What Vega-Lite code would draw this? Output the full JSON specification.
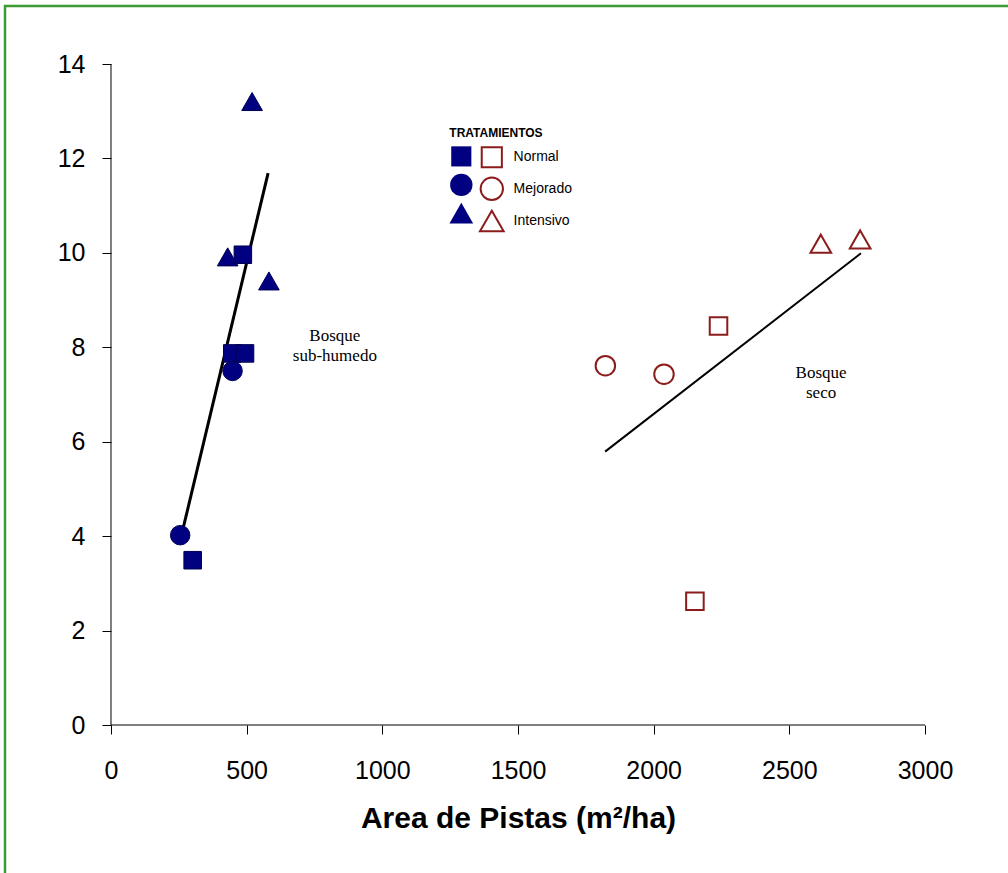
{
  "$schema": "https://vega.github.io/schema/vega-lite/v6.json",
  "autosize": "none",
  "width": 1013,
  "height": 877,
  "padding": {"left": 5, "top": 6, "right": -10, "bottom": -10},
  "background": "white",
  "config": {
    "view": {"stroke": "#3d9b35", "strokeWidth": 2.5},
    "axis": {"grid": false},
    "font": "Liberation Sans"
  },
  "datasets": {
    "subhumedo": [
      {"area": 520, "valor": 13.2, "tratamiento": "Intensivo"},
      {"area": 430, "valor": 9.91, "tratamiento": "Intensivo"},
      {"area": 582, "valor": 9.4, "tratamiento": "Intensivo"},
      {"area": 486, "valor": 9.96, "tratamiento": "Normal"},
      {"area": 447, "valor": 7.87, "tratamiento": "Normal"},
      {"area": 494, "valor": 7.87, "tratamiento": "Normal"},
      {"area": 301, "valor": 3.49, "tratamiento": "Normal"},
      {"area": 448, "valor": 7.5, "tratamiento": "Mejorado"},
      {"area": 255, "valor": 4.02, "tratamiento": "Mejorado"}
    ],
    "seco": [
      {"area": 2616, "valor": 10.19, "tratamiento": "Intensivo"},
      {"area": 2761, "valor": 10.28, "tratamiento": "Intensivo"},
      {"area": 2239, "valor": 8.45, "tratamiento": "Normal"},
      {"area": 2152, "valor": 2.62, "tratamiento": "Normal"},
      {"area": 1822, "valor": 7.61, "tratamiento": "Mejorado"},
      {"area": 2038, "valor": 7.43, "tratamiento": "Mejorado"}
    ],
    "ajuste_sub": [
      {"area": 266, "valor": 4.17},
      {"area": 579, "valor": 11.69}
    ],
    "ajuste_seco": [
      {"area": 1821, "valor": 5.79},
      {"area": 2764, "valor": 9.99}
    ],
    "ejes": [
      {"area": 0, "valor": 0, "area2": 3000, "valor2": 0},
      {"area": 0, "valor": 0, "area2": 0, "valor2": 14}
    ],
    "etiquetas": [
      {"area": 825, "valor": 8.14, "texto": "Bosque\nsub-humedo"},
      {"area": 2617, "valor": 7.34, "texto": "Bosque\nseco"}
    ]
  },
  "encoding": {
    "x": {
      "field": "area",
      "type": "quantitative",
      "scale": {"domain": [-390.66, 3342.75], "nice": false, "zero": false},
      "axis": {
        "orient": "bottom",
        "offset": -158,
        "domain": false,
        "values": [0, 500, 1000, 1500, 2000, 2500, 3000],
        "format": "d",
        "tickSize": 9,
        "tickColor": "black",
        "tickWidth": 1,
        "labelFont": "Liberation Sans",
        "labelFontSize": 25,
        "labelColor": "black",
        "labelPadding": 24,
        "labelFlush": false,
        "labelOverlap": false,
        "title": "Area de Pistas (m²/ha)",
        "titleFont": "Liberation Sans",
        "titleFontSize": 30,
        "titleFontWeight": "bold",
        "titleColor": "black",
        "titleX": 513,
        "titleY": 102,
        "titleAlign": "center",
        "titleBaseline": "alphabetic"
      }
    },
    "y": {
      "field": "valor",
      "type": "quantitative",
      "scale": {"domain": [-3.3464, 15.2285], "nice": false, "zero": false},
      "axis": {
        "orient": "left",
        "offset": -106,
        "domain": false,
        "values": [0, 2, 4, 6, 8, 10, 12, 14],
        "format": "d",
        "tickSize": 9,
        "tickColor": "black",
        "tickWidth": 1,
        "labelFont": "Liberation Sans",
        "labelFontSize": 25,
        "labelColor": "black",
        "labelPadding": 17,
        "labelOverlap": false,
        "title": null
      }
    }
  },
  "layer": [
    {
      "data": {"name": "ejes"},
      "mark": {"type": "rule", "color": "black", "strokeWidth": 1},
      "encoding": {
        "x2": {"field": "area2"},
        "y2": {"field": "valor2"}
      }
    },
    {
      "data": {"name": "ajuste_sub"},
      "mark": {"type": "line", "color": "black", "strokeWidth": 3},
      "encoding": {}
    },
    {
      "data": {"name": "ajuste_seco"},
      "mark": {"type": "line", "color": "black", "strokeWidth": 2},
      "encoding": {}
    },
    {
      "data": {"name": "subhumedo"},
      "mark": {"type": "point", "filled": true, "fill": "#000080", "stroke": "#000050", "strokeWidth": 1, "opacity": 1, "size": 380},
      "encoding": {
        "shape": {
          "field": "tratamiento",
          "type": "nominal",
          "scale": {"domain": ["Normal", "Mejorado", "Intensivo"], "range": ["M-0.9,-0.9L0.9,-0.9L0.9,0.9L-0.9,0.9Z", "circle", "M0,-0.95L1.06,0.9L-1.06,0.9Z"]},
          "legend": {
            "orient": "none",
            "legendX": 444.3,
            "legendY": 122.4,
            "padding": 0,
            "title": "TRATAMIENTOS",
            "titleFont": "Liberation Sans",
            "titleFontSize": 12,
            "titleFontWeight": "bold",
            "titleColor": "black",
            "titlePadding": 4,
            "labelExpr": "''",
            "symbolSize": 500,
            "symbolFillColor": "#000080",
            "symbolStrokeColor": "#000050",
            "symbolStrokeWidth": 1,
            "symbolOpacity": 1,
            "rowPadding": 1.5,
            "labelOffset": 0
          }
        }
      }
    },
    {
      "data": {"name": "seco"},
      "mark": {"type": "point", "filled": false, "stroke": "#8c1c1c", "strokeWidth": 2, "opacity": 1, "size": 380},
      "encoding": {
        "shape": {
          "field": "tratamiento",
          "type": "nominal",
          "scale": {"domain": ["Normal", "Mejorado", "Intensivo"], "range": ["M-0.9,-0.9L0.9,-0.9L0.9,0.9L-0.9,0.9Z", "circle", "M0,-0.95L1.06,0.9L-1.06,0.9Z"]},
          "legend": {
            "orient": "none",
            "legendX": 474.3,
            "legendY": 138.8,
            "padding": 0,
            "title": null,
            "labelFont": "Liberation Sans",
            "labelFontSize": 14,
            "labelColor": "black",
            "labelOffset": 9.3,
            "symbolSize": 500,
            "symbolFillColor": "white",
            "symbolStrokeColor": "#8c1c1c",
            "symbolStrokeWidth": 2,
            "symbolOpacity": 1,
            "rowPadding": 1.5
          }
        }
      }
    },
    {
      "data": {"name": "etiquetas"},
      "mark": {"type": "text", "font": "Liberation Serif", "fontSize": 17, "color": "black", "align": "center", "baseline": "alphabetic", "lineBreak": "\n", "lineHeight": 20},
      "encoding": {
        "text": {"field": "texto"}
      }
    }
  ],
  "resolve": {"scale": {"shape": "independent"}, "legend": {"shape": "independent"}}
}
